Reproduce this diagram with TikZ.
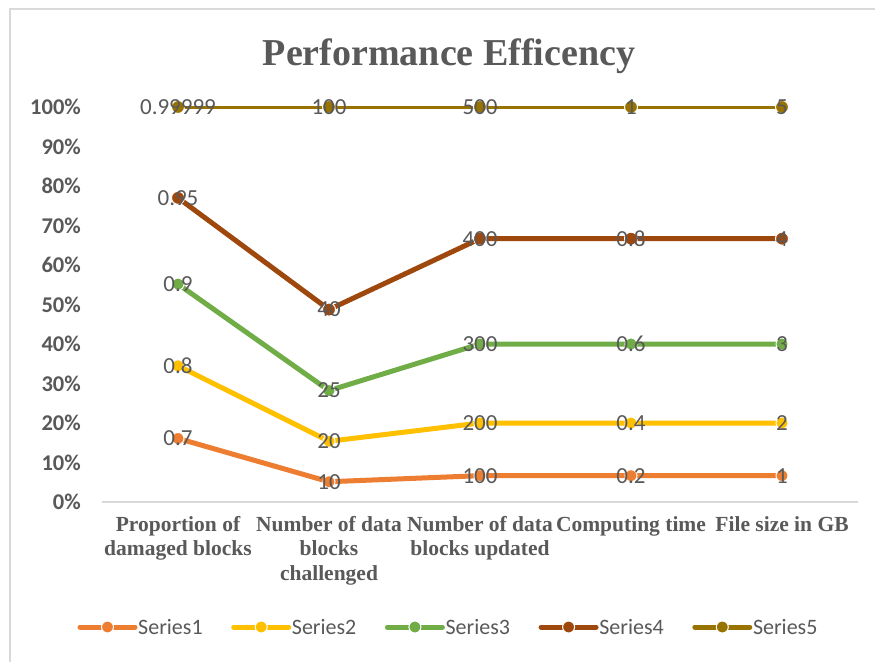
\documentclass[tikz,border=0pt]{standalone}
\usepackage{fontspec}
\setmainfont{Liberation Serif}
\newfontfamily\lblfont{Carlito}
\definecolor{txt}{HTML}{595959}
\definecolor{sA}{HTML}{ED7D31}
\definecolor{sB}{HTML}{FFC000}
\definecolor{sC}{HTML}{70AD47}
\definecolor{sD}{HTML}{9E480E}
\definecolor{sE}{HTML}{997300}
\definecolor{framecol}{HTML}{D9D9D9}
\tikzset{
  titlestyle/.style={text=txt, font=\fontsize{38}{42}\selectfont\bfseries, inner sep=0},
  catlab/.style={text=txt, font=\fontsize{21.5}{24.5}\selectfont\bfseries, align=center, inner sep=0, anchor=north},
  ylab/.style={text=txt, font=\lblfont\fontsize{22.5}{25}\selectfont\bfseries, inner sep=0, anchor=east},
  dlab/.style={text=txt, font=\lblfont\fontsize{23}{26}\selectfont, inner sep=0},
  leglab/.style={text=txt, font=\lblfont\fontsize{22}{26}\selectfont, inner sep=0, anchor=west},
  serline/.style={line width=5, line join=round, line cap=round},
  mark/.style={fill=#1, draw=white, line width=1},
}
\begin{document}
\begin{tikzpicture}[x=1pt,y=-1pt]
\useasboundingbox (0,0) rectangle (875,662);
\fill[white] (0,0) rectangle (875,662);
% frame
\draw[framecol, line width=2] (10,662) -- (10,9) -- (875,9);
% title
\node[titlestyle, anchor=base] (title) at (449,65) {Performance Efficency};
% axis
\coordinate (axL) at (102,502);
\coordinate (axR) at (858,502);
\draw[framecol, line width=1.5] (axL) -- (axR);
% y labels
\foreach \v in {0,10,...,100}
  \node[ylab] (y\v) at (81,{502-3.95*\v}) {\v\%};
% category labels
\node[catlab] (cat1) at (178,516) {Proportion of\\damaged blocks};
\node[catlab] (cat2) at (329,516) {Number of data\\blocks\\challenged};
\node[catlab] (cat3) at (480,516) {Number of data\\blocks updated};
\node[catlab] (cat4) at (631,516) {Computing time};
\node[catlab] (cat5) at (782,516) {File size in GB};
% data points
\foreach \s/\pa/\pb/\pc/\pd/\pe in {1/16.09/5.13/6.67/6.67/6.67, 2/34.48/15.38/20/20/20, 3/55.17/28.21/40/40/40, 4/77.01/48.72/66.67/66.67/66.67, 5/100/100/100/100/100}{
  \foreach \c/\p in {1/\pa,2/\pb,3/\pc,4/\pd,5/\pe}
    \coordinate (s\s c\c) at ({178+151*(\c-1)},{502-3.95*\p});
}
% series lines and markers
\draw[serline, sA] (s1c1) -- (s1c2) -- (s1c3) -- (s1c4) -- (s1c5);
\foreach \c in {1,...,5} \path[mark=sA] (s1c\c) circle (6);
\draw[serline, sB] (s2c1) -- (s2c2) -- (s2c3) -- (s2c4) -- (s2c5);
\foreach \c in {1,...,5} \path[mark=sB] (s2c\c) circle (6);
\draw[serline, sC] (s3c1) -- (s3c2) -- (s3c3) -- (s3c4) -- (s3c5);
\foreach \c in {1,...,5} \path[mark=sC] (s3c\c) circle (6);
\draw[serline, sD] (s4c1) -- (s4c2) -- (s4c3) -- (s4c4) -- (s4c5);
\foreach \c in {1,...,5} \path[mark=sD] (s4c\c) circle (6.5);
\draw[serline, sE, line width=3] (s5c1) -- (s5c2) -- (s5c3) -- (s5c4) -- (s5c5);
\foreach \c in {1,...,5} \path[mark=sE] (s5c\c) circle (6.5);
% data labels
\foreach \s/\la/\lb/\lc/\ld/\le in {1/0.7/10/100/0.2/1, 2/0.8/20/200/0.4/2, 3/0.9/25/300/0.6/3, 4/0.95/40/400/0.8/4, 5/0.99999/100/500/1/5}{
  \foreach \c/\l in {1/\la,2/\lb,3/\lc,4/\ld,5/\le}
    \node[dlab] (l\s c\c) at (s\s c\c) {\l};
}
% legend
\foreach \i/\col in {1/sA,2/sB,3/sC,4/sD,5/sE}{
  \coordinate (lgA\i) at ({80+153.7*(\i-1)},627);
  \coordinate (lgB\i) at ({80+153.7*(\i-1)+55},627);
  \coordinate (lgM\i) at ({80+153.7*(\i-1)+27.5},627);
  \draw[serline, \col] (lgA\i) -- (lgB\i);
  \path[mark=\col] (lgM\i) circle (6);
  \node[leglab] (lgT\i) at ({80+153.7*(\i-1)+58},627) {Series\i};
}
\end{tikzpicture}
\end{document}
